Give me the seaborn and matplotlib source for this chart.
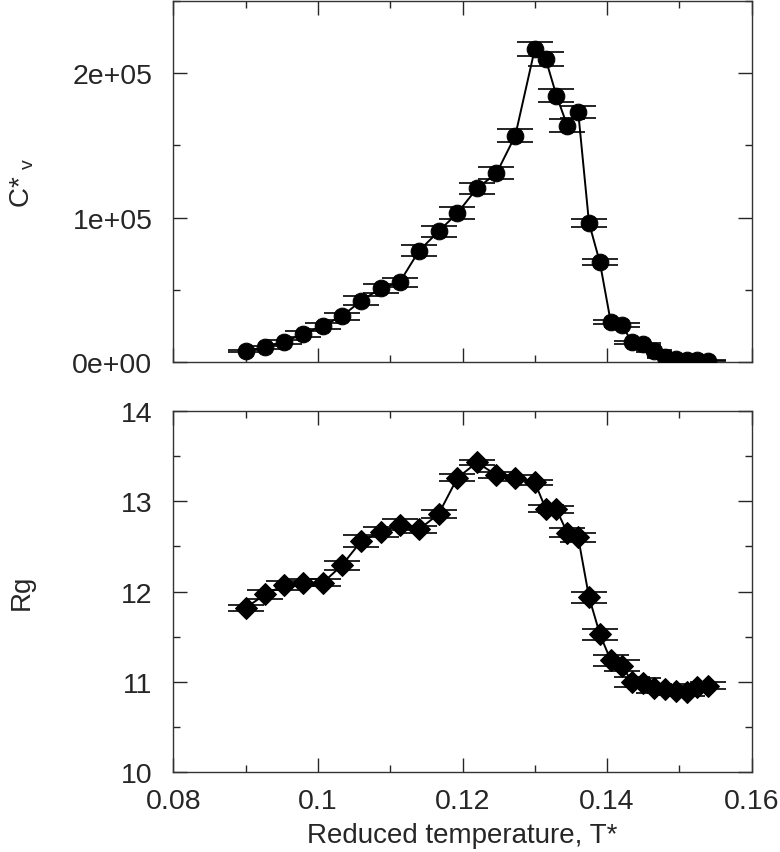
import numpy as np
import pandas as pd
import matplotlib
matplotlib.use('Agg')
import matplotlib.pyplot as plt
import seaborn as sns
from matplotlib.ticker import MultipleLocator, FuncFormatter

# reduced temperatures
temps = [0.09, 0.0927, 0.0953, 0.098, 0.1007, 0.1033, 0.106, 0.1087, 0.1113, 0.114,
         0.1167, 0.1193, 0.122, 0.1247, 0.1273, 0.13,
         0.1315, 0.133, 0.1345, 0.136, 0.1375, 0.139, 0.1405, 0.142,
         0.1435, 0.145, 0.1465, 0.148, 0.1495, 0.151, 0.1525, 0.154]

# specific heat
cv = [7800, 10150, 14060, 19380, 25130, 31600, 42440, 51000, 55150, 77040,
      90420, 103100, 120200, 130600, 156600, 216600,
      209700, 184300, 163500, 173200, 96200, 69000, 27900, 25600,
      13600, 12460, 7800, 3250, 2080, 1400, 1400, 900]
cv_err = [700, 1000, 1400, 1800, 2200, 2500, 3000, 3300, 3200, 3800,
          4000, 4000, 4000, 4300, 4400, 5000,
          4800, 4400, 4400, 4200, 2800, 2200, 1400, 1300,
          1000, 900, 700, 500, 400, 300, 300, 200]

# radius of gyration
rg = [11.82, 11.97, 12.07, 12.10, 12.10, 12.29, 12.56, 12.66, 12.74, 12.69,
      12.86, 13.26, 13.43, 13.29, 13.26, 13.21,
      12.92, 12.91, 12.65, 12.60, 11.94, 11.53, 11.24, 11.18,
      11.00, 10.99, 10.93, 10.92, 10.90, 10.89, 10.94, 10.96]
rg_err = [0.03, 0.05, 0.05, 0.04, 0.04, 0.05, 0.07, 0.06, 0.06, 0.04,
          0.04, 0.04, 0.03, 0.03, 0.03, 0.03,
          0.04, 0.04, 0.05, 0.05, 0.06, 0.06, 0.06, 0.06,
          0.05, 0.05, 0.05, 0.04, 0.04, 0.04, 0.04, 0.04]

df = pd.DataFrame({'T': temps, 'cv': cv, 'cv_err': cv_err, 'rg': rg, 'rg_err': rg_err})

sns.set_style('ticks')
plt.rcParams['font.family'] = ['Liberation Sans', 'DejaVu Sans']
plt.rcParams['mathtext.default'] = 'regular'
plt.rcParams['axes.linewidth'] = 1.0
plt.rcParams['axes.edgecolor'] = '#333333'

fig = plt.figure(figsize=(7.8, 8.53), dpi=100)
ax1 = fig.add_axes([0.2222, 0.5744, 0.7415, 0.4236])
ax2 = fig.add_axes([0.2222, 0.0934, 0.7415, 0.4236])

# top panel
ax1.errorbar(df['T'], df['cv'], yerr=df['cv_err'], fmt='none', ecolor='black',
             elinewidth=1.2, capsize=13, capthick=1.2, zorder=2)
sns.lineplot(data=df, x='T', y='cv', ax=ax1, color='black', linewidth=1.4,
             marker='o', markersize=12, markeredgecolor='black', zorder=3)
ax1.set_xlim(0.08, 0.16)
ax1.set_ylim(0, 250000)
ax1.yaxis.set_major_locator(MultipleLocator(100000))
ax1.yaxis.set_minor_locator(MultipleLocator(50000))
ax1.yaxis.set_major_formatter(FuncFormatter(lambda v, p: '%.0e' % v))
ax1.set_ylabel('C* $_{v}$', fontsize=20, labelpad=26)
ax1.set_xlabel('')
ax1.tick_params(labelbottom=False)

# bottom panel
ax2.errorbar(df['T'], df['rg'], yerr=df['rg_err'], fmt='none', ecolor='black',
             elinewidth=1.2, capsize=13, capthick=1.2, zorder=2)
sns.lineplot(data=df, x='T', y='rg', ax=ax2, color='black', linewidth=1.4,
             marker='D', markersize=11, markeredgecolor='black', zorder=3)
ax2.set_xlim(0.08, 0.16)
ax2.set_ylim(10, 14)
ax2.yaxis.set_major_locator(MultipleLocator(1))
ax2.yaxis.set_minor_locator(MultipleLocator(0.5))
ax2.set_ylabel('Rg', fontsize=20, labelpad=62)
ax2.set_xlabel('Reduced temperature, T*', fontsize=20, labelpad=6)

for ax in (ax1, ax2):
    ax.xaxis.set_major_locator(MultipleLocator(0.02))
    ax.xaxis.set_minor_locator(MultipleLocator(0.01))
    ax.xaxis.set_major_formatter(FuncFormatter(lambda v, p: '%g' % round(v, 4)))
    ax.tick_params(which='major', direction='in', length=10, width=1,
                   top=True, right=True, labelsize=20.5)
    ax.tick_params(which='minor', direction='in', length=5, width=1,
                   top=True, right=True)
    ax.tick_params(axis='y', pad=15)
    ax.tick_params(axis='x', pad=11)
    for s in ax.spines.values():
        s.set_visible(True)

fig.savefig('out.png', dpi=100)
